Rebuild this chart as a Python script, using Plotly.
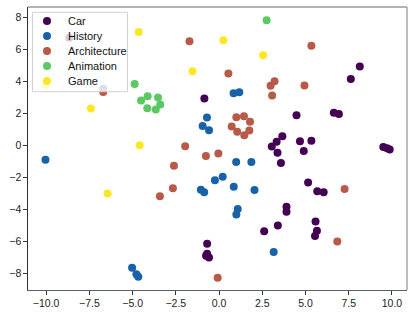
import plotly.graph_objects as go

car_x = [-8.66, -0.85, 8.14, 7.62, 4.48, 6.64, 6.93, 3.66, 3.33, 3.05, 4.68, 5.34, 3.38, 4.90, 3.58,
         9.50, 9.72, 9.87, 5.15, 5.68, 6.05, 3.90, 3.90, 3.40, 5.58, 5.66, 5.55, 2.61, -0.69, -0.69, -0.58, -0.75]
car_y = [6.73, 2.94, 4.94, 4.16, 1.89, 2.04, 1.96, 0.57, 0.23, -0.07, 0.27, 0.30, -0.46, -0.35, -1.09,
         -0.10, -0.17, -0.26, -2.31, -2.86, -2.92, -3.84, -4.15, -5.00, -4.75, -5.34, -5.67, -5.36, -6.15, -6.78, -7.00, -6.90]

history_x = [-6.70, 0.84, 1.17, -0.70, -0.95, -0.58, -10.04, 0.99, 1.87, -0.24, 0.21, -1.05, -0.86, 0.85,
             2.05, 1.08, 1.00, 3.16, -5.03, -4.78, -4.67]
history_y = [3.55, 3.27, 3.33, 1.75, 1.22, 0.95, -0.90, -1.04, -1.04, -2.18, -1.96, -2.77, -2.93, -2.59,
             -2.78, -3.98, -4.32, -6.67, -7.65, -8.06, -8.21]

arch_x = [-6.70, -1.71, 5.34, 0.54, 2.98, 3.21, 3.07, 4.94, 1.00, 1.44, 1.79, 1.75, 1.46, 1.05, 0.73,
          -1.96, -0.76, -0.04, -2.61, -2.67, -3.42, 7.26, 6.84, -0.08]
arch_y = [3.35, 6.52, 6.23, 4.50, 3.73, 4.02, 3.12, 3.75, 1.77, 1.83, 1.48, 0.94, 0.64, 0.85, 1.19,
          -0.05, -0.66, -0.50, -1.27, -2.67, -3.17, -2.73, -6.00, -8.28]

anim_x = [2.75, -4.88, -4.51, -4.13, -3.53, -3.40, -3.66, -4.15]
anim_y = [7.83, 3.85, 2.81, 3.08, 3.00, 2.56, 2.25, 2.33]

game_x = [-4.65, 0.25, 2.55, -1.54, -10.04, -7.41, -4.59, -6.45]
game_y = [7.10, 6.58, 5.64, 4.64, 3.73, 2.31, 0.02, -3.00]

categories = ["Car", "History", "Architecture", "Animation", "Game"]
colors = ["#440154", "#1a62a8", "#b85a48", "#5cc862", "#fde725"]
xs_all = [car_x, history_x, arch_x, anim_x, game_x]
ys_all = [car_y, history_y, arch_y, anim_y, game_y]

x_ticks = [-10.0, -7.5, -5.0, -2.5, 0.0, 2.5, 5.0, 7.5, 10.0]
y_ticks = [-8, -6, -4, -2, 0, 2, 4, 6, 8]

W, H = 415, 316
ML, MR, MT, MB = 28, 8, 7, 26
PW, PH = W - ML - MR, H - MT - MB


def px_to_paper(px, py):
    return (px - ML) / PW, (H - MB - py) / PH


fig = go.Figure()
for name, xs, ys, col in zip(categories, xs_all, ys_all, colors):
    fig.add_trace(go.Scatter(x=xs, y=ys, mode="markers", name=name, showlegend=False,
                             marker=dict(color=col, size=8, line=dict(width=0))))

# manual legend (matplotlib-like compact box)
shapes = []
annotations = []
lx0, ly0 = px_to_paper(32.5, 12.3)
lx1, ly1 = px_to_paper(127.5, 91.7)
shapes.append(dict(type="rect", xref="paper", yref="paper", x0=lx0, x1=lx1, y0=ly1, y1=ly0,
                   fillcolor="rgba(255,255,255,0.8)", line=dict(color="#d0d0d0", width=1), layer="above"))
for i, (name, col) in enumerate(zip(categories, colors)):
    mx, my = px_to_paper(47, 21 + 15 * i)
    shapes.append(dict(type="circle", xref="paper", yref="paper", xsizemode="pixel", ysizemode="pixel",
                       xanchor=mx, yanchor=my, x0=-4, x1=4, y0=-4, y1=4,
                       fillcolor=col, line=dict(width=0), layer="above"))
    tx, ty = px_to_paper(66, 21 + 15 * i)
    annotations.append(dict(xref="paper", yref="paper", x=tx, y=ty, xanchor="left", yanchor="middle",
                            text=name, showarrow=False,
                            font=dict(family="Liberation Sans, Arial, sans-serif", size=11, color="#111111")))

shapes += [
    dict(type="line", xref="paper", yref="paper", x0=0, x1=1, y0=1, y1=1,
         line=dict(color="#9a9a9a", width=1.3)),
    dict(type="line", xref="paper", yref="paper", x0=1, x1=1, y0=0, y1=1,
         line=dict(color="#9a9a9a", width=1.3)),
]

font = dict(family="Liberation Sans, Arial, sans-serif", size=10.5, color="#222222")
fig.update_layout(
    width=W, height=H,
    margin=dict(l=ML, r=MR, t=MT, b=MB, autoexpand=False),
    paper_bgcolor="white", plot_bgcolor="white",
    font=font,
    showlegend=False,
    xaxis=dict(range=[-11.05, 10.87], tickvals=x_ticks, tickformat=".1f", automargin=False,
               showgrid=False, zeroline=False, showline=True, linecolor="#5a5f6a", linewidth=1.3,
               ticks="outside", ticklen=3.5, tickcolor="#333333", tickwidth=1),
    yaxis=dict(range=[-9.04, 8.66], tickvals=y_ticks, automargin=False,
               showgrid=False, zeroline=False, showline=True, linecolor="#3a2a36", linewidth=1.3,
               ticks="outside", ticklen=3.5, tickcolor="#333333", tickwidth=1),
    shapes=shapes,
    annotations=annotations,
)

fig.write_html("out.html", config={"displayModeBar": False},
               post_script="document.body.style.margin='0';document.body.style.overflow='hidden';")
